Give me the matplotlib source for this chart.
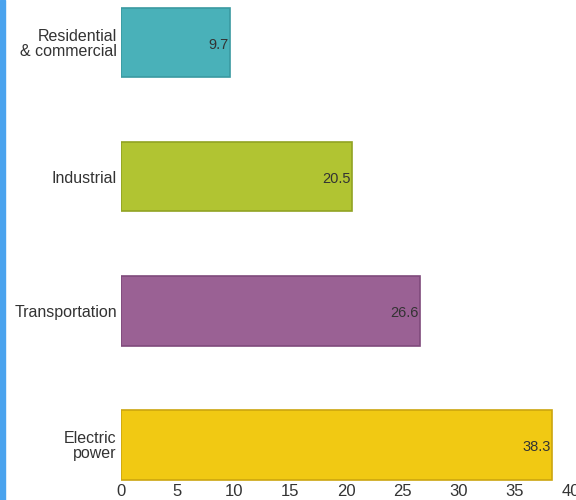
import matplotlib
matplotlib.use("Agg")
import matplotlib.pyplot as plt
from matplotlib.patches import Rectangle

# secteurs et valeurs (du haut vers le bas)
secteurs = ["Residential\n& commercial", "Industrial", "Transportation", "Electric\npower"]
valeurs = [9.7, 20.5, 26.6, 38.3]
couleurs = ["#49B1B9", "#B1C432", "#9A6194", "#F1C913"]
bords = ["#3A9AA1", "#91A323", "#7F4A7B", "#CCA50F"]
graduations = [0, 5, 10, 15, 20, 25, 30, 35, 40]

plt.rcParams['font.family'] = ['Liberation Sans', 'DejaVu Sans']

fig = plt.figure(figsize=(5.76, 5.0), dpi=100)
ax = fig.add_axes([121/576, 1 - 481/500, 450/576, 481/500])

pos = [3, 2, 1, 0]
ax.barh(pos, valeurs, height=0.52, color=couleurs, edgecolor=bords, linewidth=1.2)

for p, v in zip(pos, valeurs):
    ax.text(v - 0.12, p - 0.02, "%.1f" % v, ha='right', va='center', fontsize=10.5, color='#333333')

ax.set_xlim(0, 40)
ax.set_ylim(-0.27, 3.317)
ax.set_xticks(graduations)
ax.set_yticks(pos)
ax.set_yticklabels(secteurs)
ax.tick_params(axis='x', length=0, pad=2, labelsize=12, labelcolor='#333333')
ax.tick_params(axis='y', length=0, pad=3, labelsize=11.5, labelcolor='#333333')
for lab in ax.get_yticklabels():
    lab.set_linespacing(1.0)
    lab.set_multialignment('right')
for s in ax.spines.values():
    s.set_visible(False)

# barre bleue a gauche
fig.patches.append(Rectangle((0, 0), 5/576, 1, transform=fig.transFigure,
                             color='#4AA3EE', zorder=0))

fig.savefig("out.png", dpi=100)
